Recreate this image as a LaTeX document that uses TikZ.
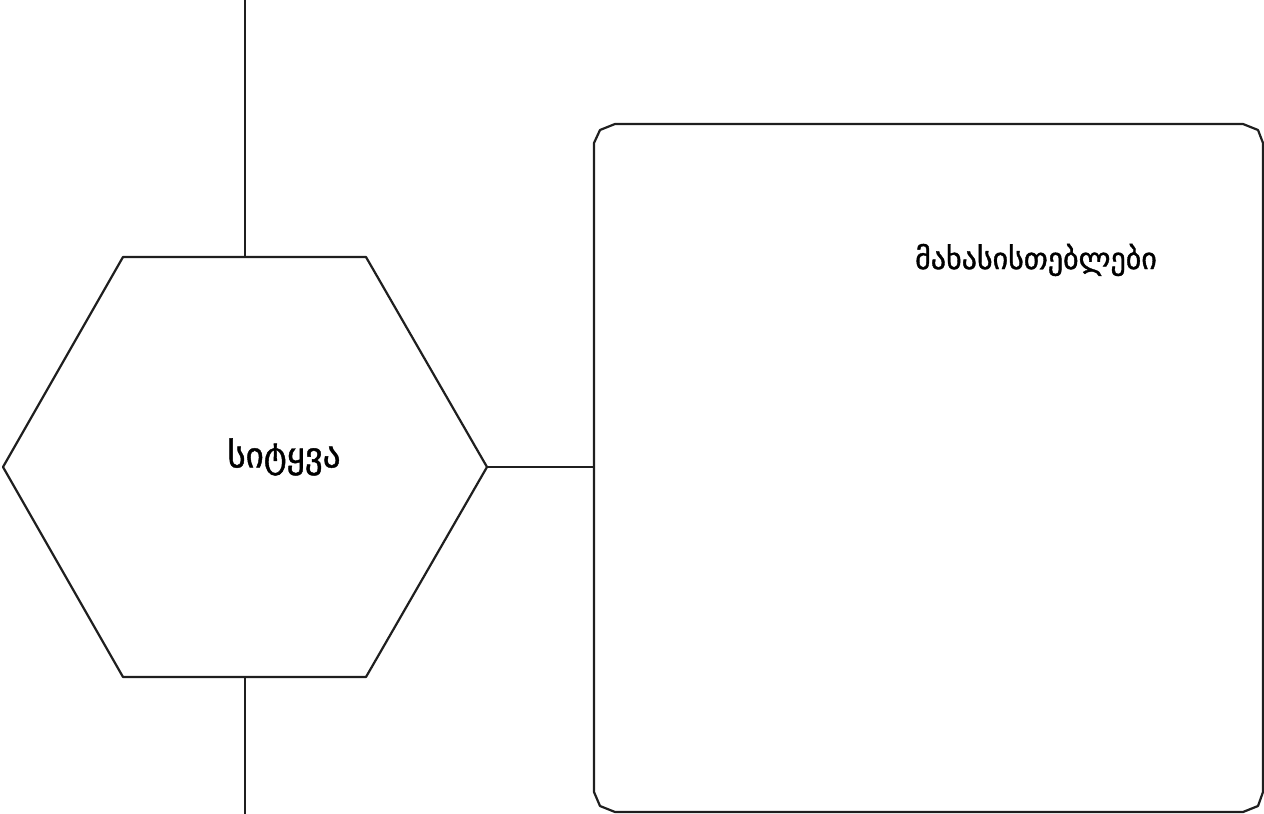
\documentclass[tikz,border=0pt]{standalone}
\usepackage{fontspec}
\newfontfamily\geofont[Script=Georgian,FakeBold=1.2]{DejaVu Sans}
\begin{document}
\begin{tikzpicture}[x=1pt,y=-1pt,
  outline/.style={draw=black!88,line width=2.2pt,line join=round},
  lbl/.style={font=\geofont,inner sep=0pt}]
\useasboundingbox (0,0) rectangle (1264,814);
% hexagon
\coordinate (hT) at (245,257);
\coordinate (hB) at (245,677);
\coordinate (hR) at (487,467);
\draw[outline] (123,257) -- (366,257) -- (hR) -- (366,677) -- (123,677) -- (3,467) -- cycle;
% rounded box
\coordinate (bL) at (594,467);
\draw[outline] (615,124) -- (1243,124) -- (1258,130) -- (1263,143) -- (1263,792) -- (1258,806) -- (1243,812)
  -- (615,812) -- (600,806) -- (594,792) -- (594,143) -- (600,130) -- cycle;
% connectors
\coordinate (topEnd) at (245,0);
\coordinate (botEnd) at (245,814);
\draw[outline] (topEnd) -- (hT);
\draw[outline] (hB) -- (botEnd);
\draw[outline] (hR) -- (bL);
% labels
\node[lbl,font=\geofont\fontsize{35}{40}\selectfont] (word) at (284,457) {სიტყვა};
\node[lbl,font=\geofont\fontsize{30}{36}\selectfont] (props) at (1036,260) {მახასისთებლები};
\end{tikzpicture}
\end{document}
